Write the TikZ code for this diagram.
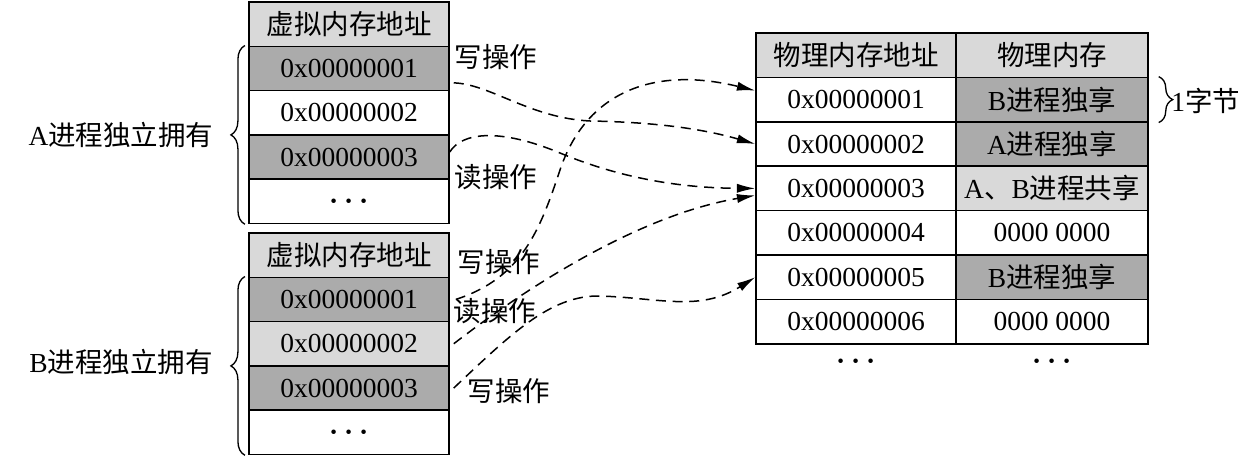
\documentclass[tikz,border=0pt]{standalone}
\usepackage{fontspec}
\setmainfont{Liberation Serif}
\newfontfamily\zhfont{Noto Sans CJK SC}
\newcommand{\zh}[1]{{\zhfont #1}}
\newcommand{\moredots}{{\boldmath$\cdots$}}
\usetikzlibrary{arrows.meta,decorations.pathreplacing}
\definecolor{cellD}{HTML}{ABABAB}
\definecolor{cellL}{HTML}{D9D9D9}

\begin{document}
\begin{tikzpicture}[x=0.6pt, y=-0.6pt, font=\fontsize{16.5}{18}\selectfont,
  vcell/.style={draw, line width=0.9pt, minimum width=120pt, minimum height=26.6pt, inner sep=0pt},
  pcell/.style={vcell, minimum height=26.64pt},
  mcell/.style={pcell, minimum width=115.2pt},
  link/.style={dashed, dash pattern=on 6pt off 4pt, line width=0.9pt, -{Latex[length=11pt, width=5.5pt]}},
  bracel/.style={decorate, decoration={brace, amplitude=8.4pt}, line width=0.8pt}]
  \useasboundingbox (0,0) rectangle (1241,456);

  % virtual tables of the two processes
  \foreach \i/\txt/\bg in {
    0/\zh{虚拟内存地址}/cellL,
    1/0x00000001/cellD,
    2/0x00000002/white,
    3/0x00000003/cellD,
    4/\moredots/white}{
    \node[vcell, fill=\bg] (va\i) at (349, {24.15+44.3*\i}) {\txt};
  }
  \foreach \i/\txt/\bg in {
    0/\zh{虚拟内存地址}/cellL,
    1/0x00000001/cellD,
    2/0x00000002/cellL,
    3/0x00000003/cellD,
    4/\moredots/white}{
    \node[vcell, fill=\bg] (vb\i) at (349, {255.15+44.3*\i}) {\txt};
  }

  % physical memory
  \node[pcell, fill=cellL] (pa0) at (856, 55.2) {\zh{物理内存地址}};
  \node[mcell, fill=cellL] (pm0) at (1052, 55.2) {\zh{物理内存}};
  \foreach \i/\addr/\mem/\bg in {
    1/0x00000001/B\zh{进程独享}/cellD,
    2/0x00000002/A\zh{进程独享}/cellD,
    3/0x00000003/A\zh{、}B\zh{进程共享}/cellL,
    4/0x00000004/0000 0000/white,
    5/0x00000005/B\zh{进程独享}/cellD,
    6/0x00000006/0000 0000/white}{
    \node[pcell] (pa\i) at (856, {55.2+44.4*\i}) {\addr};
    \node[mcell, fill=\bg] (pm\i) at (1052, {55.2+44.4*\i}) {\mem};
  }
  \node (pdots) at (856, 362) {\moredots};
  \node (mdots) at (1052, 362) {\moredots};

  % braces
  \draw[bracel] ([xshift=-2pt]va4.south west) -- ([xshift=-2pt]va1.north west);
  \draw[bracel] ([xshift=-2pt]vb4.south west) -- ([xshift=-2pt]vb1.north west);
  \draw[bracel] ([xshift=6pt]pm1.north east) -- ([xshift=6pt]pm1.south east);
  \node (ownA) at (121, 135) {A\zh{进程独立拥有}};
  \node (ownB) at (121, 362) {B\zh{进程独立拥有}};
  \node[anchor=west, inner sep=0pt] (byte) at (1171, 101) {1\zh{字节}};

  % operation labels
  \node (wA) at (496, 57) {\zh{写操作}};
  \node (rA) at (496, 177) {\zh{读操作}};
  \node (wB1) at (499, 262) {\zh{写操作}};
  \node (rB) at (495, 311) {\zh{读操作}};
  \node (wB3) at (509, 391) {\zh{写操作}};

  % mappings
  \draw[link] ([xshift=2.4pt, yshift=5.1pt]va1.south east)
    .. controls (490,84) and (530,118) .. (590,121)
    .. controls (650,122) and (700,128) .. (pa2.west);
  \draw[link] ([yshift=3pt]va3.east)
    .. controls (462,132) and (500,128) .. (560,153)
    .. controls (620,178) and (680,188) .. (pa3.west);
  \draw[link] ([xshift=3.6pt]vb1.east)
    .. controls (522,278) and (540,230) .. (560,170)
    .. controls (585,95) and (650,65) .. ([yshift=5.4pt]pa1.west);
  \draw[link] ([xshift=2.4pt]vb2.east)
    .. controls (530,285) and (640,215) .. ([yshift=-4.2pt]pa3.west);
  \draw[link] ([xshift=2.4pt]vb3.east)
    .. controls (510,335) and (550,295) .. (600,296)
    .. controls (660,298) and (700,312) .. (pa5.west);
\end{tikzpicture}
\end{document}
